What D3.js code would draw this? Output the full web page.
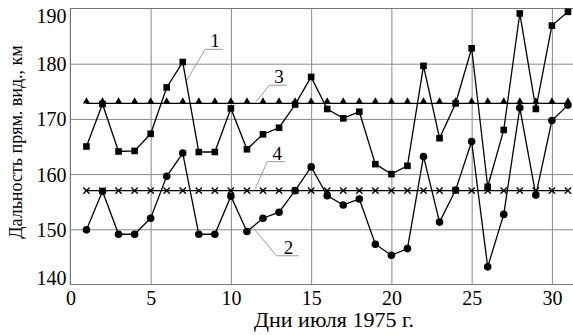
<!DOCTYPE html>
<html>
<head>
<meta charset="utf-8">
<script src="https://cdn.jsdelivr.net/npm/d3@7"></script>
<style>
  body { margin: 0; background: #fff; }
  svg { display: block; }
</style>
</head>
<body>
<div id="chart"></div>
<script>
// days of July 1975
const days = [1, 2, 3, 4, 5, 6, 7, 8, 9, 10, 11, 12, 13, 14, 15, 16, 17, 18, 19, 20,
              21, 22, 23, 24, 25, 26, 27, 28, 29, 30, 31];

// curve 1 (squares)
const series1 = [165.0, 172.7, 164.1, 164.2, 167.3, 175.7, 180.3, 164.0, 164.0, 171.9,
                 164.5, 167.2, 168.4, 172.6, 177.6, 171.8, 170.1, 171.3, 161.8, 160.0,
                 161.5, 179.6, 166.5, 172.8, 182.8, 157.7, 168.0, 189.1, 171.8, 186.9, 189.4];

// curve 2 (circles)
const series2 = [149.9, 156.9, 149.1, 149.1, 152.0, 159.6, 163.8, 149.1, 149.1, 156.0,
                 149.6, 152.0, 153.1, 157.0, 161.3, 156.1, 154.4, 155.5, 147.3, 145.3,
                 146.5, 163.2, 151.3, 157.1, 165.9, 143.2, 152.7, 172.0, 156.2, 169.7, 172.5];

// curve 3 (triangles)
const series3 = [172.8, 172.8, 172.8, 172.8, 172.8, 172.8, 172.8, 172.8, 172.8, 172.8,
                 172.8, 172.8, 172.8, 172.8, 172.8, 172.8, 172.8, 172.8, 172.8, 172.8,
                 172.8, 172.8, 172.8, 172.8, 172.8, 172.8, 172.8, 172.8, 172.8, 172.8, 172.8];

// curve 4 (crosses)
const series4 = [157.0, 157.0, 157.0, 157.0, 157.0, 157.0, 157.0, 157.0, 157.0, 157.0,
                 157.0, 157.0, 157.0, 157.0, 157.0, 157.0, 157.0, 157.0, 157.0, 157.0,
                 157.0, 157.0, 157.0, 157.0, 157.0, 157.0, 157.0, 157.0, 157.0, 157.0, 157.0];

const xTicks = [0, 5, 10, 15, 20, 25, 30];
const yTicks = [140, 150, 160, 170, 180, 190];

// curve labels: tip, elbow and end of the leader in data units
const labelNames = ["1", "2", "3", "4"];
const labelTip   = [[7.25, 177.0], [11.4, 150.2], [11.56, 173.1], [11.5, 157.25]];
const labelElbow = [[8.4, 182.6], [12.85, 145.2], [12.39, 176.1], [12.27, 162.25]];
const labelEnd   = [[9.5, 182.6], [14.2, 145.2], [13.48, 176.1], [13.37, 162.25]];

const width = 573, height = 335;
const plotLeft = 70.4, plotTop = 8.5, plotBottom = 284.5;
const serif = 'Liberation Serif';

const svg = d3.select('#chart').append('svg')
    .attr('width', width)
    .attr('height', height)
    .attr('font-family', serif);

const x = d3.scaleLinear().domain([0, 32]).range([plotLeft, plotLeft + 32 * 16.05]);
const y = d3.scaleLinear().domain([140, 190]).range([plotBottom, plotTop]);

// grid
svg.append('g')
    .attr('transform', `translate(0,${plotBottom})`)
    .call(d3.axisBottom(x).tickValues(xTicks.slice(1)).tickSize(-(plotBottom - plotTop)).tickFormat(''))
    .call(g => g.select('.domain').remove())
    .call(g => g.selectAll('line').attr('stroke', '#888'));

svg.append('g')
    .attr('transform', `translate(${plotLeft},0)`)
    .call(d3.axisLeft(y).tickValues(yTicks.slice(1, -1)).tickSize(-(width - plotLeft)).tickFormat(''))
    .call(g => g.select('.domain').remove())
    .call(g => g.selectAll('line').attr('stroke', '#888'));

// frame (left, top, bottom)
svg.append('path')
    .attr('d', `M${width},${plotTop}H${plotLeft}V${plotBottom}H${width}`)
    .attr('fill', 'none')
    .attr('stroke', '#777')
    .attr('stroke-width', 1.2);

// axis labels
const xAxis = svg.append('g')
    .attr('transform', `translate(0,${plotBottom})`)
    .call(d3.axisBottom(x).tickValues(xTicks).tickSize(0).tickPadding(0))
    .attr('font-family', serif)
    .attr('font-size', 20);
xAxis.select('.domain').remove();
xAxis.selectAll('text')
    .attr('y', 20.5).attr('dy', 0)
    .attr('fill', '#000');

const yAxis = svg.append('g')
    .attr('transform', `translate(${plotLeft - 4},0)`)
    .call(d3.axisLeft(y).tickValues(yTicks).tickSize(0).tickPadding(0))
    .attr('font-family', serif)
    .attr('font-size', 20);
yAxis.select('.domain').remove();
yAxis.selectAll('text')
    .attr('fill', '#000')
    .attr('dy', d => d === 190 ? '0.7em' : d === 140 ? '-0.02em' : '0.35em');

// titles
svg.append('text')
    .attr('x', 334).attr('y', 327)
    .attr('text-anchor', 'middle')
    .attr('font-size', 22)
    .text('Дни июля 1975 г.');

svg.append('text')
    .attr('transform', 'translate(22,142) rotate(-90)')
    .attr('text-anchor', 'middle')
    .attr('font-size', 18)
    .text('Дальность прям. вид., км');

// leaders
labelNames.forEach((name, i) => {
    const pts = [labelTip[i], labelElbow[i], labelEnd[i]];
    svg.append('path')
        .attr('d', d3.line().x(p => x(p[0])).y(p => y(p[1]))(pts))
        .attr('fill', 'none')
        .attr('stroke', '#999')
        .attr('stroke-width', 1);
    svg.append('text')
        .attr('x', (x(labelElbow[i][0]) + x(labelEnd[i][0])) / 2 + 1)
        .attr('y', y(labelEnd[i][1]) - 2)
        .attr('text-anchor', 'middle')
        .attr('font-size', 19)
        .text(name);
});

// lines
const line = d3.line().x((d, i) => x(days[i])).y(d => y(d));
[series1, series2, series3, series4].forEach(s => {
    svg.append('path')
        .attr('d', line(s))
        .attr('fill', 'none')
        .attr('stroke', '#000')
        .attr('stroke-width', 1.3);
});

// markers
svg.append('g').selectAll('path')
    .data(series3)
    .join('path')
    .attr('d', d3.symbol(d3.symbolTriangle, 22))
    .attr('transform', (d, i) => `translate(${x(days[i])},${y(d) - 2})`)
    .attr('fill', '#000');

svg.append('g').selectAll('path')
    .data(series4)
    .join('path')
    .attr('d', d3.symbol(d3.symbolX, 28))
    .attr('transform', (d, i) => `translate(${x(days[i])},${y(d)})`)
    .attr('fill', 'none')
    .attr('stroke', '#000')
    .attr('stroke-width', 1.3);

svg.append('g').selectAll('rect')
    .data(series1)
    .join('rect')
    .attr('x', (d, i) => x(days[i]) - 3.3)
    .attr('y', d => y(d) - 3.3)
    .attr('width', 6.6)
    .attr('height', 6.6)
    .attr('fill', '#000');

svg.append('g').selectAll('circle')
    .data(series2)
    .join('circle')
    .attr('cx', (d, i) => x(days[i]))
    .attr('cy', d => y(d))
    .attr('r', 3.8)
    .attr('fill', '#000');
</script>
</body>
</html>
